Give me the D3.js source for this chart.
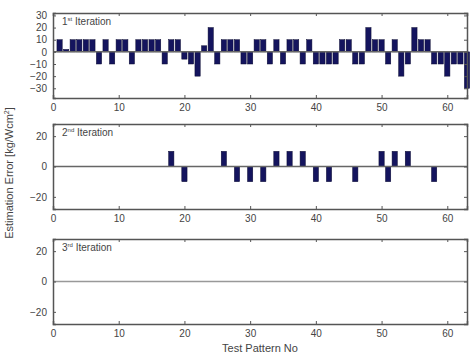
<!DOCTYPE html>
<html>
<head>
<meta charset="utf-8">
<script src="https://cdn.jsdelivr.net/npm/d3@7"></script>
<style>
  body { margin: 0; background: #fff; }
  text { font-family: "Liberation Sans", Arial, sans-serif; fill: #444; }
</style>
</head>
<body>
<div id="chart"></div>
<script>
// test pattern numbers 1..63
const patterns = d3.range(1, 64)

// estimation errors per iteration
const iter1 = [10, 2, 10, 10, 10, 10, -10, 10, -10, 10,
               10, -10, 10, 10, 10, 10, -10, 10, 10, -6,
               -10, -20, 5, 20, -10, 10, 10, 10, -10, -10,
               10, 10, -10, 10, -10, 10, 10, -10, 10, -10,
               -10, -10, -10, 10, 10, -10, -10, 20, 10, 10,
               -10, 10, -20, -10, 20, 10, 10, -10, -10, -20,
               -10, -10, -30]
const iter2Idx = [18, 20, 26, 28, 30, 32, 34, 36, 38, 40, 42, 46, 50, 51, 52, 54, 58]
const iter2Val = [10, -10, 10, -10, -10, -10, 10, 10, 10, -10, -10, -10, 10, -10, 10, 10, -10]
const iter2 = patterns.map(p => {
    const k = iter2Idx.indexOf(p)
    return k < 0 ? 0 : iter2Val[k]
})
const iter3 = patterns.map(p => 0)

const xTicks = [0, 10, 20, 30, 40, 50, 60]
const panels = [
    { values: iter1, num: "1", sup: "st", domain: [-38, 32], ticks: [-30, -20, -10, 0, 10, 20, 30], base: "#666" },
    { values: iter2, num: "2", sup: "nd", domain: [-28, 28], ticks: [-20, 0, 20], base: "#666" },
    { values: iter3, num: "3", sup: "rd", domain: [-28, 28], ticks: [-20, 0, 20], base: "#999" }
]

const width = 471
const height = 357
const left = 53, right = 467
const tops = [13, 124, 239]
const ph = 85

const svg = d3.select("#chart")
    .append("svg")
    .attr("width", width)
    .attr("height", height)

const x = d3.scaleLinear().domain([0, 63]).range([left, right])
const bw = x(0.8) - x(0)

panels.forEach((p, i) => {
    const top = tops[i]
    const y = d3.scaleLinear().domain(p.domain).range([top + ph, top])
    const g = svg.append("g")

    // bars
    g.selectAll("rect")
        .data(p.values.map((v, j) => ({ n: patterns[j], v: v })).filter(d => d.v !== 0))
        .join("rect")
        .attr("x", d => x(d.n) - bw / 2)
        .attr("width", bw)
        .attr("y", d => y(Math.max(0, d.v)))
        .attr("height", d => Math.abs(y(d.v) - y(0)))
        .attr("fill", "#14145e")
        .attr("stroke", "#0a0a30")
        .attr("stroke-width", 0.5)

    // baseline
    g.append("line")
        .attr("x1", left).attr("x2", right)
        .attr("y1", y(0)).attr("y2", y(0))
        .attr("stroke", p.base)
        .attr("stroke-width", 1.5)

    // axes, ticks pointing inward like matlab
    const ax = [
        d3.axisBottom(x).tickValues(xTicks).tickSize(-3).tickPadding(6),
        d3.axisTop(x).tickValues(xTicks).tickSize(-3).tickFormat(""),
        d3.axisLeft(y).tickValues(p.ticks).tickSize(-3).tickPadding(6),
        d3.axisRight(y).tickValues(p.ticks).tickSize(-3).tickFormat("")
    ]
    const pos = [
        [0, top + ph], [0, top], [left, 0], [right, 0]
    ]
    ax.forEach((a, k) => {
        const ag = g.append("g")
            .attr("transform", `translate(${pos[k][0]},${pos[k][1]})`)
            .call(a)
        ag.select(".domain").attr("stroke", "#555").attr("stroke-width", 1.5)
        ag.selectAll(".tick line").attr("stroke", "#555")
        ag.selectAll(".tick text")
            .attr("font-size", 10)
            .style("font-family", "Liberation Sans, Arial, sans-serif")
            .attr("fill", "#555")
    })

    // panel title
    const t = g.append("text")
        .attr("x", 62)
        .attr("y", top + 12)
        .attr("font-size", 10)
    t.append("tspan").text(p.num)
    t.append("tspan").text(p.sup).attr("font-size", 6).attr("dy", -4)
    t.append("tspan").text(" Iteration").attr("dy", 4)
})

svg.append("text")
    .attr("x", 260)
    .attr("y", 352)
    .attr("text-anchor", "middle")
    .attr("font-size", 11)
    .text("Test Pattern No")

const yl = svg.append("text")
    .attr("transform", "translate(13,173) rotate(-90)")
    .attr("text-anchor", "middle")
    .attr("font-size", 11)
yl.append("tspan").text("Estimation Error [kg/Wcm")
yl.append("tspan").text("2").attr("font-size", 7).attr("dy", -4)
yl.append("tspan").text("]").attr("dy", 4)
</script>
</body>
</html>
